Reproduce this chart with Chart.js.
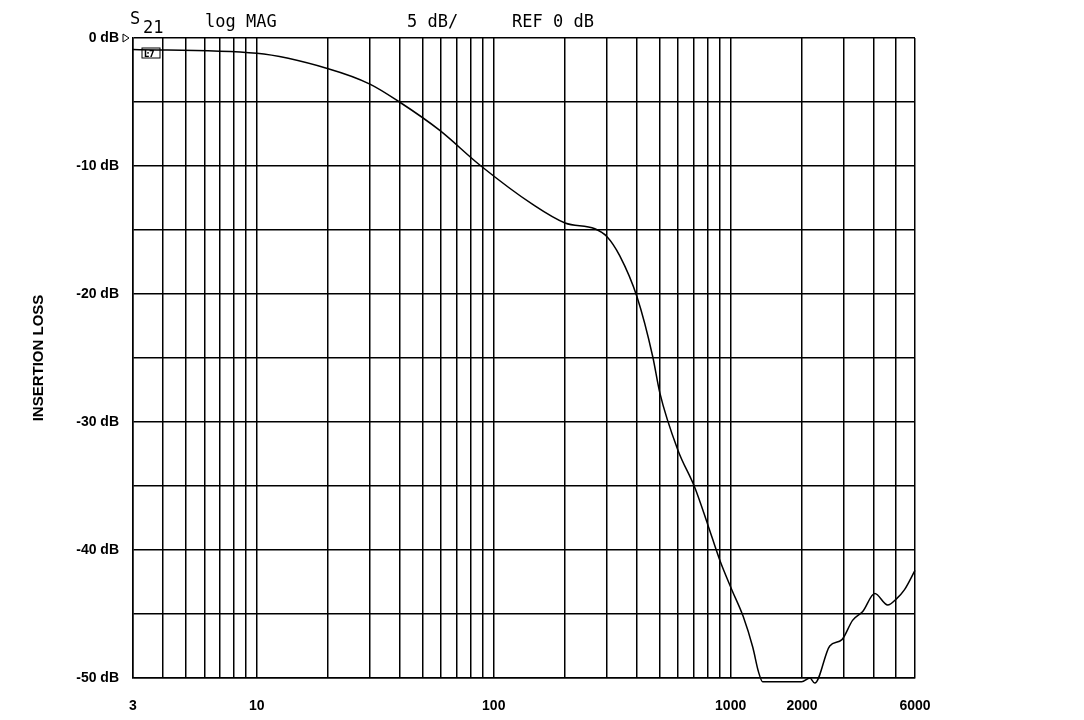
<!DOCTYPE html>
<html><head><meta charset="utf-8">
<script src="https://cdn.jsdelivr.net/npm/chart.js@4"></script>
<style>html,body{margin:0;padding:0;background:#fff}#w{width:1084px;height:720px}</style>
</head><body><div id="w"><canvas id="c"></canvas></div>
<script>
const freqs = [3,10,20,30,40,59,87,146,200,267,300,340,402,469,502,599,705,800,900,1011,1130,1240,1310,1365,1700,1995,2160,2265,2620,2950,3270,3610,4060,4600,5020,5420,6000];
const lossDb = [-0.9,-1.2,-2.4,-3.6,-5.0,-7.2,-9.9,-13.0,-14.45,-14.9,-15.5,-17.0,-20.2,-24.9,-27.7,-32.2,-35.1,-38.0,-40.8,-43.1,-45.2,-47.6,-49.5,-50.3,-50.3,-50.3,-50.0,-50.4,-47.5,-47.0,-45.5,-44.8,-43.4,-44.3,-43.8,-43.1,-41.6];
const xLabels = [3,10,100,1000,2000,6000];
const yLabels = {0:'0 dB','-10':'-10 dB','-20':'-20 dB','-30':'-30 dB','-40':'-40 dB','-50':'-50 dB'};
const gridX = [];
for (let d=1; d<=1000; d*=10) for (let m=1; m<10; m++){const v=m*d; if(v>=3&&v<=6000) gridX.push(v);}
const header = {id:'hdr',afterDraw(c){const g=c.ctx,a=c.chartArea;g.save();g.fillStyle='#000';
 g.font='17px "DejaVu Sans Mono"';g.textBaseline='alphabetic';
 g.fillText('S',130,24);g.fillText('21',143,33);g.fillText('log MAG',205,27);g.fillText('5 dB/',407,27);g.fillText('REF 0 dB',512,27);
 g.beginPath();g.moveTo(123,a.top-4);g.lineTo(129,a.top);g.lineTo(123,a.top+4);g.closePath();g.lineWidth=1;g.strokeStyle='#000';g.stroke();
 g.strokeRect(142,a.top+10,18,10);g.font='bold 8px "DejaVu Sans"';g.fillText('Ŀ7',144,a.top+19);
 g.restore();}};
new Chart(document.getElementById('c'),{type:'line',
 data:{datasets:[{data:freqs.map((f,i)=>({x:f,y:lossDb[i]})),borderColor:'#000',borderWidth:1.5,pointRadius:0,cubicInterpolationMode:'monotone',fill:false,clip:false}]},
 options:{responsive:true,maintainAspectRatio:false,animation:false,
  layout:{padding:{left:0,right:169,top:38,bottom:0}},
  plugins:{legend:{display:false},tooltip:{enabled:false}},
  scales:{
   x:{type:'logarithmic',min:3,max:6000,
    afterBuildTicks(s){s.ticks=gridX.map(v=>({value:v}));},
    afterFit(s){s.height=42;},
    ticks:{autoSkip:false,maxRotation:0,color:'#000',font:{family:'"Liberation Sans"',size:14,weight:'bold'},padding:20,
     callback(v){return xLabels.includes(v)?String(v):'';}},
    grid:{color:'#000',lineWidth:1.5,drawTicks:false},border:{color:'#000',width:1.5}},
   y:{min:-50,max:0,
    afterBuildTicks(s){const t=[];for(let v=-50;v<=0;v+=5)t.push({value:v});s.ticks=t;},
    afterFit(s){s.width=133;},
    ticks:{color:'#000',font:{family:'"Liberation Sans"',size:14,weight:'bold'},padding:14,
     callback(v){return yLabels[v]||'';}},
    title:{display:true,text:'INSERTION LOSS',color:'#000',font:{family:'"Liberation Sans"',size:15,weight:'bold'},padding:{top:30,bottom:10}},
    grid:{color:'#000',lineWidth:1.5,drawTicks:false},border:{color:'#000',width:1.5}}
  }},plugins:[header]});
</script></body></html>
